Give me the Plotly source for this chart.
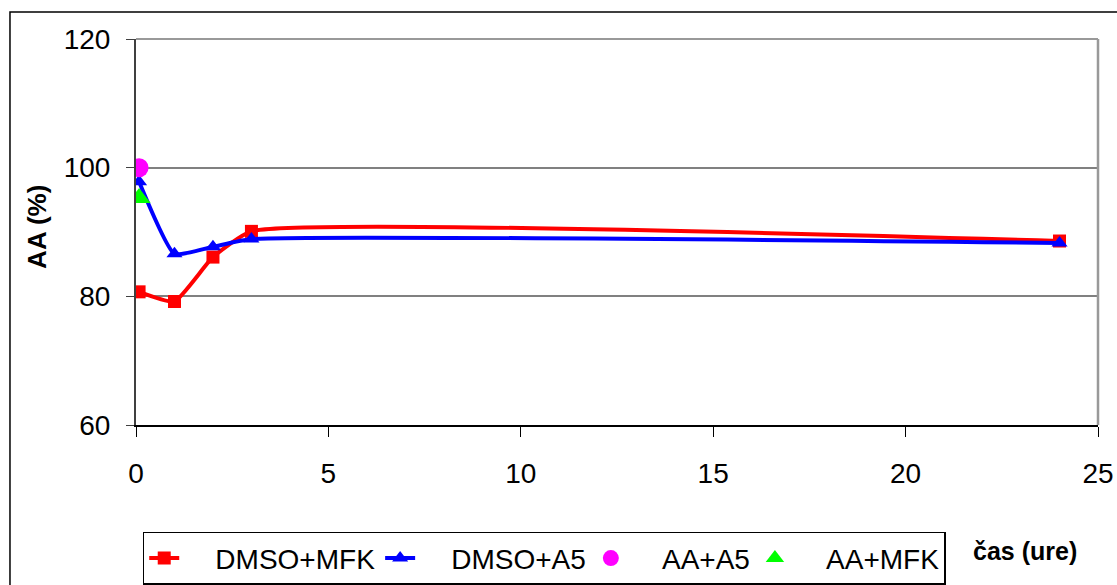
import plotly.graph_objects as go

time_h = [0.08, 1, 2, 3, 24]
dmso_mfk = [80.7, 79.2, 86.1, 90.1, 88.6]
dmso_a5 = [97.8, 86.6, 87.7, 88.9, 88.3]
aa_a5_x = [0.08]
aa_a5 = [100.0]
aa_mfk_x = [0.08]
aa_mfk = [95.3]

x_ticks = [0, 5, 10, 15, 20, 25]
y_ticks = [60, 80, 100, 120]

PAD = "\u00a0\u00a0\u00a0\u00a0"

fig = go.Figure()
fig.add_trace(go.Scatter(x=time_h, y=dmso_mfk, name=PAD + "DMSO+MFK", mode="lines+markers",
                         line=dict(color="#FF0000", width=4, shape="spline", smoothing=0.45),
                         marker=dict(symbol="square", size=13, color="#FF0000")))
fig.add_trace(go.Scatter(x=time_h, y=dmso_a5, name=PAD + "DMSO+A5", mode="lines+markers",
                         line=dict(color="#0000FF", width=4, shape="spline", smoothing=0.45),
                         marker=dict(symbol="triangle-up", size=14, color="#0000FF")))
fig.add_trace(go.Scatter(x=aa_a5_x, y=aa_a5, name=PAD + "AA+A5", mode="markers",
                         marker=dict(symbol="circle", size=19, color="#FF00FF")))
fig.add_trace(go.Scatter(x=aa_mfk_x, y=aa_mfk, name=PAD + "AA+MFK", mode="markers",
                         marker=dict(symbol="triangle-up", size=20, color="#00FF00")))

fig.update_layout(
    width=1117, height=585,
    margin=dict(l=136, r=19, t=39, b=160, autoexpand=False),
    paper_bgcolor="white", plot_bgcolor="white",
    font=dict(family="Arial, Liberation Sans, sans-serif", size=28, color="black"),
    showlegend=True,
    legend=dict(orientation="h", x=0.007, y=-0.277, xanchor="left", yanchor="top",
                bordercolor="black", borderwidth=1.5, font=dict(size=28),
                tracegroupgap=0),
    xaxis=dict(range=[0, 25], tickvals=x_ticks, showgrid=False, zeroline=False,
               showline=True, linecolor="black", linewidth=2, ticks="outside",
               ticklen=10, tickcolor="black", tickfont=dict(size=28),
               ticklabelstandoff=12),
    yaxis=dict(range=[60, 120], tickvals=y_ticks, showgrid=True, gridcolor="#808080",
               gridwidth=1.5, zeroline=False, showline=True, linecolor="#404040",
               linewidth=2, ticks="outside", ticklen=8, tickcolor="#404040",
               tickfont=dict(size=28), ticklabelstandoff=10),
    shapes=[
        dict(type="line", xref="paper", yref="paper", x0=1, x1=1, y0=0, y1=1,
             line=dict(color="#999999", width=2.5)),
        dict(type="line", xref="paper", yref="paper", x0=0, x1=1, y0=1, y1=1,
             line=dict(color="#999999", width=2)),
        dict(type="rect", xref="paper", yref="paper", x0=-0.131, x1=1.05, y0=-0.6, y1=1.07,
             line=dict(color="black", width=1.5), layer="below"),
    ],
    annotations=[
        dict(text="<b>AA (%)</b>", xref="paper", yref="paper", x=-0.103, y=0.513,
             xanchor="center", yanchor="middle",
             textangle=-90, showarrow=False, font=dict(size=26)),
        dict(text="<b>čas (ure)</b>", xref="paper", yref="paper", x=0.924, y=-0.326,
             xanchor="center", yanchor="middle",
             showarrow=False, font=dict(size=25)),
    ],
)

fig.write_html("out.html")
